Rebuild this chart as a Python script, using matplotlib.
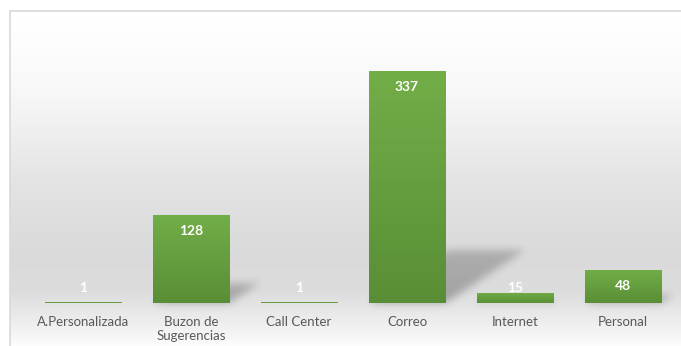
import numpy as np
import matplotlib
matplotlib.use("Agg")
import matplotlib.pyplot as plt
from matplotlib.patches import Rectangle

categories = ["A.Personalizada", "Buzon de\nSugerencias", "Call Center",
              "Correo", "Internet", "Personal"]
values = [1, 128, 1, 337, 15, 48]

W, H = 681, 346
DPI = 100
GREEN_TOP = np.array([0x72, 0xAE, 0x48]) / 255
GREEN_BOT = np.array([0x5A, 0x8E, 0x36]) / 255
TEXT_GREY = "#595959"

plt.rcParams["font.family"] = ["Lato", "DejaVu Sans"]

fig = plt.figure(figsize=(W / DPI, H / DPI), dpi=DPI)

# background layer in pixel coordinates (origin bottom-left)
bg = fig.add_axes([0, 0, 1, 1])
bg.set_xlim(0, W)
bg.set_ylim(0, H)
bg.axis("off")

frame_left, frame_top = 10, H - 11
rows = np.arange(H) + 0.5
depth = H - rows  # distance from the top edge
prof_y = [11, 80, 180, 250, 290, 320, 346]
prof_v = [1.0, 0.975, 0.89, 0.855, 0.865, 0.93, 0.99]
shade = np.interp(depth, prof_y, prof_v)
grad = np.repeat(shade[:, None], 2, axis=1)
bg.imshow(np.dstack([grad] * 3), extent=[frame_left, W + 2, 0, frame_top],
          origin="lower", aspect="auto", interpolation="bilinear", zorder=0)
bg.add_patch(Rectangle((frame_left, -2), W + 10 - frame_left, frame_top + 2,
                       fill=False, edgecolor="#d9d9d9", lw=1.2, zorder=1))

# main bar axes
ax_left, ax_right, ax_top, ax_bot = 29, 677, 11, 303
ax = fig.add_axes([ax_left / W, (H - ax_bot) / H,
                   (ax_right - ax_left) / W, (ax_bot - ax_top) / H])
ax.set_facecolor("none")
x = np.arange(len(categories))
ymax = 337 * (ax_bot - ax_top) / (303 - 71)
ax.set_xlim(-0.5, len(categories) - 0.5)
ax.set_ylim(0, ymax)
bar_w = 0.71

# soft perspective shadows behind the bars
mask = np.zeros((H, W))
yy = np.arange(H)[:, None] + 0.5
xx = np.arange(W)[None, :] + 0.5
for xi, v in zip(x, values):
    (xl, y0), (xr, y1) = ax.transData.transform([(xi - bar_w / 2, 0),
                                                 (xi + bar_w / 2, v)])
    h = y1 - y0
    hs = 0.23 * h
    if hs < 2:
        continue
    dx = 1.5 * hs
    t = (yy - y0) / hs
    inside = (t >= 0) & (t <= 1) & (xx >= xl + t * dx) & (xx <= xr + t * dx)
    mask = np.maximum(mask, inside * (1.0 - 0.25 * t))


def blur(img, sigma):
    r = int(3 * sigma)
    k = np.exp(-0.5 * (np.arange(-r, r + 1) / sigma) ** 2)
    k /= k.sum()
    img = np.apply_along_axis(lambda m: np.convolve(m, k, mode="same"), 0, img)
    img = np.apply_along_axis(lambda m: np.convolve(m, k, mode="same"), 1, img)
    return img


soft = blur(mask, 4.0)
shadow = np.zeros((H, W, 4))
shadow[..., 3] = 0.27 * soft
bg.imshow(shadow, extent=[0, W, 0, H], origin="lower", aspect="auto",
          interpolation="bilinear", zorder=2)

# bars with a vertical green gradient
bars = ax.bar(x, values, width=bar_w, color=GREEN_TOP,
              edgecolor="#9ccc7c", linewidth=0.6, zorder=2)
ramp = np.linspace(0, 1, 64)[:, None, None]
ramp_img = GREEN_BOT + (GREEN_TOP - GREEN_BOT) * ramp
for b, v in zip(bars, values):
    im = ax.imshow(ramp_img, extent=[b.get_x(), b.get_x() + b.get_width(), 0, v],
                   origin="lower", aspect="auto", zorder=2.5)
    im.set_clip_path(b)
ax.set_xlim(-0.5, len(categories) - 0.5)
ax.set_ylim(0, ymax)

for xi, v in zip(x, values):
    ax.text(xi, max(v - 23, 22), str(v), ha="center", va="center",
            color="white", fontsize=10, fontweight="bold", zorder=4)

ax.set_xticks(x)
ax.set_xticklabels(categories, fontsize=9.5, color=TEXT_GREY, linespacing=1.3)
ax.tick_params(axis="x", length=0, pad=9)
ax.set_yticks([])
for s in ax.spines.values():
    s.set_visible(False)

fig.savefig("out.png", dpi=DPI)
